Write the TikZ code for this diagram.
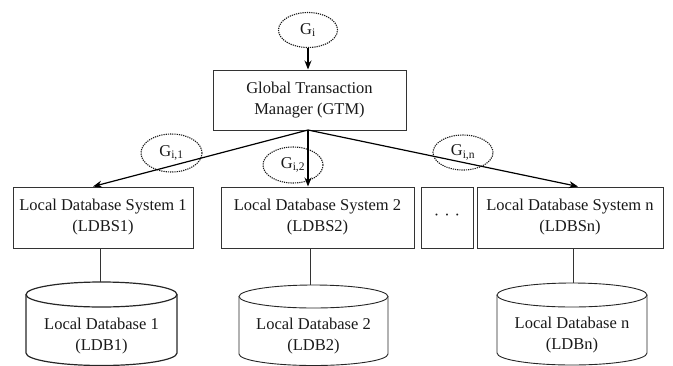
\documentclass[tikz,border=0pt]{standalone}
\usepackage{fontspec}
\setmainfont{Liberation Serif}
\usetikzlibrary{arrows.meta,shapes.geometric}
\begin{document}
\begin{tikzpicture}[x=1pt,y=-1pt,
  txt/.style={font=\fontsize{16.5}{21}\selectfont, text=black!90, align=center},
  box/.style={txt, draw=black!80, line width=1pt, inner sep=0pt},
  tag/.style={draw=black!90, dash pattern=on 1.2pt off 1pt, line width=1.1pt, ellipse,
    inner sep=0pt, text=black!90, font=\fontsize{16.5}{16.5}\selectfont},
  flow/.style={line width=1.2pt, -{Stealth[length=9pt,width=7pt]}},
  link/.style={draw=black!80, line width=0.8pt},
  drum/.style={draw=black!85, line width=0.9pt}
]
\useasboundingbox (0,0) rectangle (673,365);

% transaction tags
\node[tag, minimum width=59pt, minimum height=35pt] (Gi)  at (308,30)    {G\textsubscript{i}};
\node[tag, minimum width=61pt, minimum height=38pt] (Gi1) at (171.5,153) {G\textsubscript{i,1}};
\node[tag, minimum width=60pt, minimum height=36pt] (Gi2) at (293,165)   {G\textsubscript{i,2}};
\node[tag, minimum width=60pt, minimum height=35pt] (Gin) at (463,152.5) {G\textsubscript{i,n}};

% global manager and local systems
\node[box, minimum width=193pt, minimum height=60pt] (GTM) at (309.5,100)
  {Global Transaction\\Manager (GTM)};
\node[box, minimum width=180pt, minimum height=61pt] (LDBS1) at (103,217.5)
  {Local Database System 1\\(LDBS1)};
\node[box, minimum width=193pt, minimum height=61pt] (LDBS2) at (317.5,217.5)
  {Local Database System 2\\(LDBS2)};
\node[box, minimum width=52pt, minimum height=61pt] (more) at (447,217.5)
  {·\hspace{5pt}·\hspace{5pt}·};
\node[box, minimum width=186pt, minimum height=61pt] (LDBSn) at (570,217.5)
  {Local Database System n\\(LDBSn)};

% database drums
\draw[drum, line width=1.2pt] (26,294.5) -- (26,353)
  arc[start angle=180, end angle=360, x radius=75.5pt, y radius=12.5pt] -- (177,294.5);
\draw[drum, line width=1.2pt] (101.5,294.5) ellipse[x radius=75.5pt, y radius=12.5pt];
\coordinate (db1top) at (100,282);
\node[txt] (LDB1) at (101.5,336) {Local Database 1\\(LDB1)};

\draw[drum] (239,296.5) -- (239,354)
  arc[start angle=180, end angle=360, x radius=74.5pt, y radius=11.5pt] -- (388,296.5);
\draw[drum] (313.5,296.5) ellipse[x radius=74.5pt, y radius=11.5pt];
\coordinate (db2top) at (310,285);
\node[txt] (LDB2) at (313.5,336) {Local Database 2\\(LDB2)};

\draw[drum] (497,295) -- (497,353)
  arc[start angle=180, end angle=360, x radius=75pt, y radius=12pt] -- (647,295);
\draw[drum] (572,295) ellipse[x radius=75pt, y radius=12pt];
\coordinate (dbntop) at (573,283);
\node[txt] (LDBn) at (572,335) {Local Database n\\(LDBn)};

% transaction flow
\draw[flow] (Gi.south) -- (Gi.south |- GTM.north);
\coordinate (fork) at (308,130);
\draw[flow] (fork) -- ([xshift=-10pt]LDBS1.north);
\draw[flow] (fork) -- (fork |- LDBS2.north);
\draw[flow] (fork) -- ([xshift=8pt]LDBSn.north);

% system to database links
\draw[link] (LDBS1.south -| db1top) -- (db1top);
\draw[link] (LDBS2.south -| db2top) -- (db2top);
\draw[link] (LDBSn.south -| dbntop) -- (dbntop);
\end{tikzpicture}
\end{document}
